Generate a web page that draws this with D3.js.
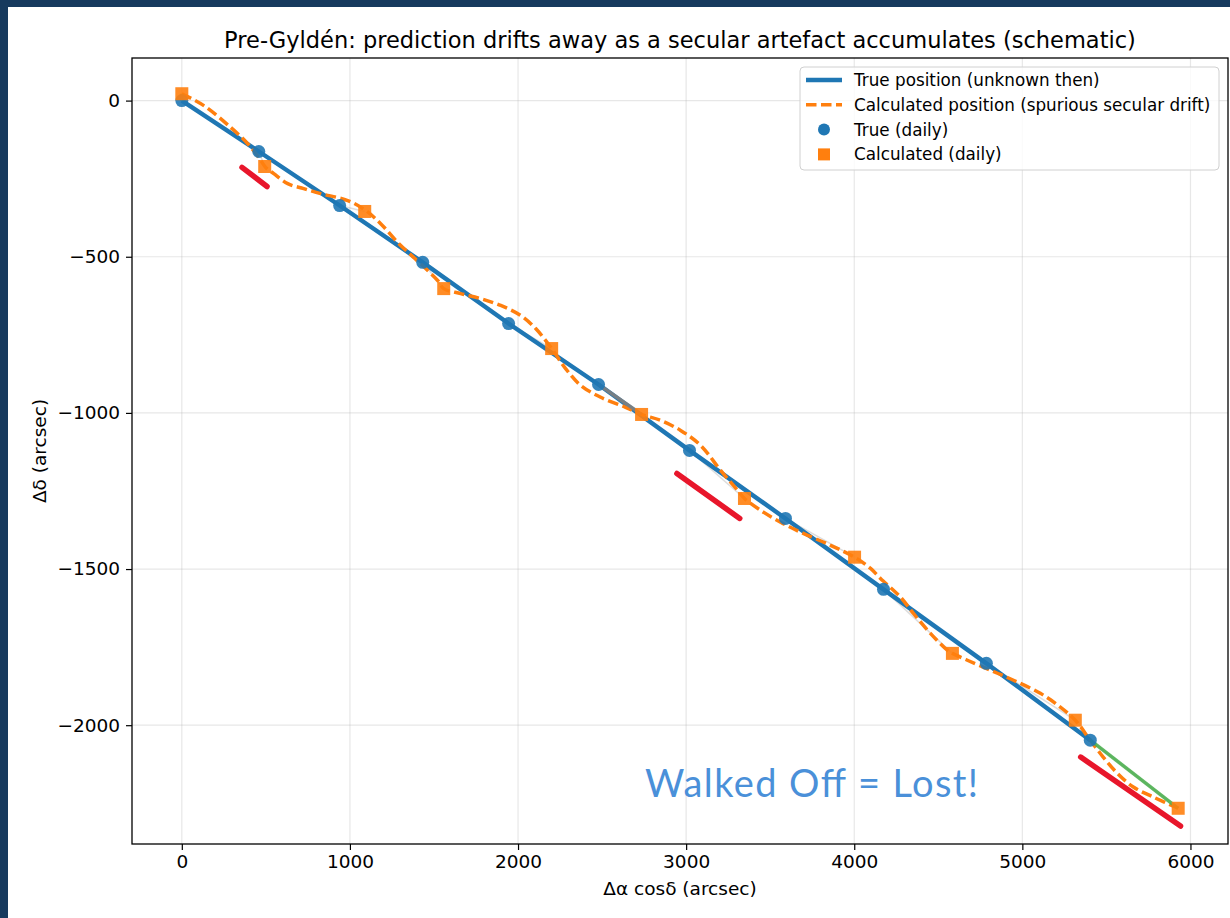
<!DOCTYPE html>
<html>
<head>
<meta charset="utf-8">
<script src="https://cdn.jsdelivr.net/npm/d3@7"></script>
<style>
  html, body { margin: 0; padding: 0; background: #173a5e; }
  svg { display: block; }
</style>
</head>
<body>
<svg id="chart" width="1230" height="918"></svg>
<script>
// daily positions (arcsec)
const trueX = [0, 458, 939, 1433, 1944, 2479, 3020, 3591, 4174, 4786, 5404];
const trueY = [0, -163, -336, -518, -714, -909, -1120, -1338, -1565, -1802, -2048];
const calcX = [0, 493, 1088, 1558, 2200, 2735, 3347, 4002, 4584, 5315, 5927];
const calcY = [22, -211, -355, -602, -794, -1005, -1274, -1462, -1770, -1984, -2266];

// calculated track
const calcPathX = [0, 131, 291, 392, 458, 499, 547, 630, 725, 826, 987, 1094, 1183, 1284, 1379, 1463, 1522, 1558,
  1659, 1778, 1897, 2016, 2105, 2200, 2283, 2373, 2492, 2640, 2735, 2848, 2967, 3086, 3205, 3306, 3347,
  3443, 3562, 3681, 3859, 4002, 4097, 4156, 4275, 4352, 4453, 4554, 4584, 4673, 4810, 4947, 5107, 5226, 5315,
  5404, 5481, 5565, 5660, 5779, 5927];
const calcPathY = [22, -16, -86, -138, -182, -214, -234, -266, -282, -298, -320, -352, -394, -454, -502, -544, -576, -602,
  -618, -634, -656, -688, -730, -794, -858, -912, -950, -982, -1005, -1024, -1056, -1104, -1184, -1248, -1274,
  -1312, -1350, -1382, -1424, -1462, -1498, -1530, -1590, -1642, -1706, -1760, -1770, -1792, -1824, -1856, -1898, -1942, -1984,
  -2048, -2102, -2154, -2198, -2230, -2266];

// red marker strokes (overlay)
const redMarks = [
  [[358, -214], [507, -275]],
  [[2945, -1194], [3319, -1338]],
  [[5347, -2102], [5941, -2323]]
];

const xTicks = [0, 1000, 2000, 3000, 4000, 5000, 6000];
const yTicks = [0, -500, -1000, -1500, -2000];

const legendItems = ["True position (unknown then)", "Calculated position (spurious secular drift)", "True (daily)", "Calculated (daily)"];

const blue = "#1f77b4", orange = "#ff7f0e";

const svg = d3.select("#chart");

// white panel
svg.append("rect").attr("x", 8).attr("y", 7).attr("width", 1222).attr("height", 911).attr("fill", "#ffffff");

const mLeft = 132, mRight = 1228, mTop = 58, mBottom = 844;

const xmin = 0, xmax = d3.max(calcX), ymin = d3.min(calcY), ymax = d3.max(calcY);
const xpad = (xmax - xmin) * 0.05, ypad = (ymax - ymin) * 0.05;

const x = d3.scaleLinear().domain([xmin - xpad, xmax + xpad]).range([mLeft, mRight]);
const y = d3.scaleLinear().domain([ymin - ypad, ymax + ypad]).range([mBottom, mTop]);

const fmt = d => d < 0 ? "\u2212" + Math.abs(d) : String(d);

// grid
const g = svg.append("g");
g.selectAll(".gx").data(xTicks).join("line")
  .attr("x1", d => x(d)).attr("x2", d => x(d)).attr("y1", mTop).attr("y2", mBottom)
  .attr("stroke", "#b0b0b0").attr("stroke-opacity", 0.3).attr("stroke-width", 1.2);
g.selectAll(".gy").data(yTicks).join("line")
  .attr("y1", d => y(d)).attr("y2", d => y(d)).attr("x1", mLeft).attr("x2", mRight)
  .attr("stroke", "#b0b0b0").attr("stroke-opacity", 0.3).attr("stroke-width", 1.2);

// axes
const xAxis = svg.append("g").attr("transform", `translate(0,${mBottom})`)
  .call(d3.axisBottom(x).tickValues(xTicks).tickFormat(fmt).tickSize(6).tickPadding(5));
const yAxis = svg.append("g").attr("transform", `translate(${mLeft},0)`)
  .call(d3.axisLeft(y).tickValues(yTicks).tickFormat(fmt).tickSize(6).tickPadding(6));
[xAxis, yAxis].forEach(a => {
  a.select(".domain").remove();
  a.selectAll("line").attr("stroke", "#000").attr("stroke-width", 1.2);
  a.selectAll("text").attr("font-family", "DejaVu Sans").attr("font-size", 18.5).attr("fill", "#000");
});

const plot = svg.append("g");

// residual connectors
const pairs = trueX.map((d, i) => ({ i, tx: d, ty: trueY[i], cx: calcX[i], cy: calcY[i] }));
plot.selectAll(".conn").data(pairs).join("line")
  .attr("x1", d => x(d.tx)).attr("y1", d => y(d.ty))
  .attr("x2", d => x(d.cx)).attr("y2", d => y(d.cy))
  .attr("stroke", "#bbbbbb").attr("stroke-opacity", 0.5).attr("stroke-width", 1.5);

// true track
const line = d3.line().x(d => x(d[0])).y(d => y(d[1]));
plot.append("path").datum(trueX.map((d, i) => [d, trueY[i]]))
  .attr("d", line).attr("fill", "none").attr("stroke", blue).attr("stroke-width", 4.4)
  .attr("stroke-linejoin", "round");

// calculated track
plot.append("path").datum(calcPathX.map((d, i) => [d, calcPathY[i]]))
  .attr("d", line.curve(d3.curveCatmullRom)).attr("fill", "none").attr("stroke", orange)
  .attr("stroke-width", 3.5).attr("stroke-dasharray", "10.5,4.5");

// highlighted connectors
const hi = [
  { i: 0, c: "#4caf50" },
  { i: 5, c: "#7f7f7f" },
  { i: trueX.length - 1, c: "#4caf50" }
];
plot.selectAll(".hi").data(hi).join("line")
  .attr("x1", d => x(trueX[d.i])).attr("y1", d => y(trueY[d.i]))
  .attr("x2", d => x(calcX[d.i])).attr("y2", d => y(calcY[d.i]))
  .attr("stroke", d => d.c).attr("stroke-width", 3.5).attr("stroke-opacity", 0.9);

// markers
plot.selectAll(".tp").data(pairs).join("circle")
  .attr("cx", d => x(d.tx)).attr("cy", d => y(d.ty)).attr("r", 6.5)
  .attr("fill", blue).attr("fill-opacity", 0.9);
plot.selectAll(".cp").data(pairs).join("rect")
  .attr("x", d => x(d.cx) - 6.5).attr("y", d => y(d.cy) - 6.5)
  .attr("width", 13).attr("height", 13)
  .attr("fill", orange).attr("fill-opacity", 0.9);

// frame
svg.append("rect").attr("x", mLeft).attr("y", mTop).attr("width", mRight - mLeft).attr("height", mBottom - mTop)
  .attr("fill", "none").attr("stroke", "#000").attr("stroke-width", 1.3);

// red overlay marks
svg.selectAll(".red").data(redMarks).join("line")
  .attr("x1", d => x(d[0][0])).attr("y1", d => y(d[0][1]))
  .attr("x2", d => x(d[1][0])).attr("y2", d => y(d[1][1]))
  .attr("stroke", "#e8162b").attr("stroke-width", 5.5).attr("stroke-linecap", "round");

// title and labels
svg.append("text").attr("x", (mLeft + mRight) / 2).attr("y", 48).attr("text-anchor", "middle")
  .attr("font-family", "DejaVu Sans").attr("font-size", 22.5).attr("fill", "#000")
  .text("Pre-Gyldén: prediction drifts away as a secular artefact accumulates (schematic)");
svg.append("text").attr("x", (mLeft + mRight) / 2).attr("y", 895).attr("text-anchor", "middle")
  .attr("font-family", "DejaVu Sans").attr("font-size", 18.5).attr("fill", "#000")
  .text("Δα cosδ (arcsec)");
svg.append("text").attr("transform", `translate(46,${(mTop + mBottom) / 2}) rotate(-90)`).attr("text-anchor", "middle")
  .attr("font-family", "DejaVu Sans").attr("font-size", 18.5).attr("fill", "#000")
  .text("Δδ (arcsec)");

svg.append("text").attr("x", 645).attr("y", 797)
  .attr("font-family", "Lato").attr("font-size", 38).attr("fill", "#4a90d9")
  .attr("textLength", 333).attr("lengthAdjust", "spacing")
  .text("Walked Off = Lost!");

// legend
const lg = svg.append("g").attr("transform", "translate(800,67)");
lg.append("rect").attr("width", 419).attr("height", 103).attr("rx", 4)
  .attr("fill", "#fff").attr("fill-opacity", 0.8).attr("stroke", "#d0d0d0");
const rows = lg.selectAll(".row").data(legendItems).join("g")
  .attr("transform", (d, i) => `translate(0,${13 + i * 24.8})`);
rows.append("text").attr("x", 54).attr("y", 6)
  .attr("font-family", "DejaVu Sans").attr("font-size", 16.8).attr("fill", "#000").text(d => d);
rows.filter((d, i) => i === 0).append("line").attr("x1", 6).attr("x2", 42)
  .attr("stroke", blue).attr("stroke-width", 4.4);
rows.filter((d, i) => i === 1).append("line").attr("x1", 6).attr("x2", 42)
  .attr("stroke", orange).attr("stroke-width", 3.5).attr("stroke-dasharray", "10.5,4.5");
rows.filter((d, i) => i === 2).append("circle").attr("cx", 24).attr("r", 6).attr("fill", blue);
rows.filter((d, i) => i === 3).append("rect").attr("x", 18).attr("y", -6).attr("width", 12).attr("height", 12).attr("fill", orange);
</script>
</body>
</html>
